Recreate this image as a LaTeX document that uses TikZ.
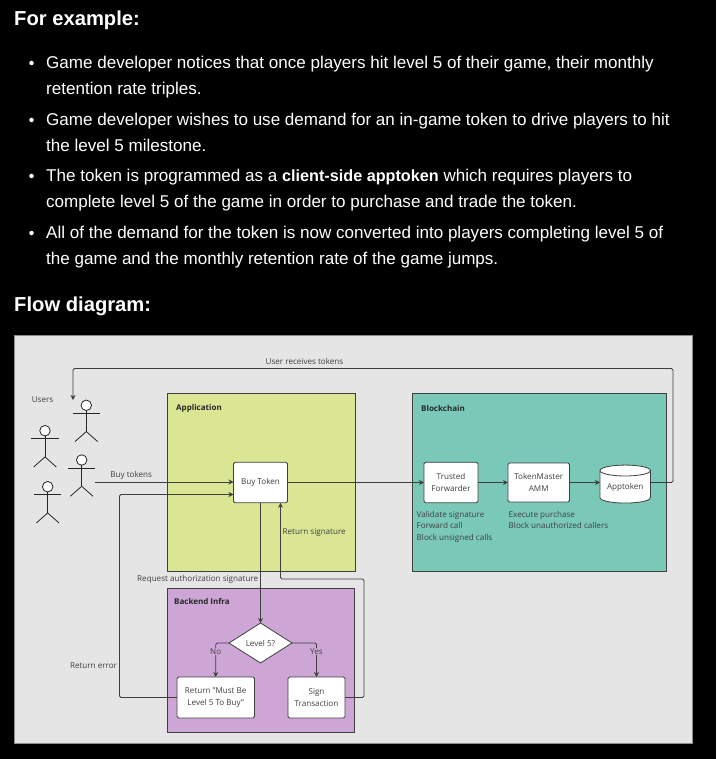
\documentclass[tikz,border=0pt]{standalone}
\usepackage{fontspec}
\setmainfont{Open Sans}
\newfontfamily\bodyfont{Liberation Sans}
\usetikzlibrary{shapes.geometric,arrows.meta,calc}
\definecolor{panel}{HTML}{E5E5E5}
\definecolor{appc}{HTML}{DAE694}
\definecolor{chainc}{HTML}{7AC8B8}
\definecolor{backc}{HTML}{CDA6D6}
\definecolor{ink}{HTML}{3F3F3F}
\tikzset{
  x=1pt,y=-1pt,
  zone/.style={draw=ink,line width=.8pt,anchor=north west,inner sep=0,outer sep=0},
  whitebox/.style={draw=ink,fill=white,line width=.8pt,rounded corners=1.5pt,inner sep=0,outer sep=0,align=center,font=\fontsize{8.1}{11.2}\selectfont,text=ink},
  conn/.style={draw=ink,line width=.8pt,rounded corners=1.5pt},
  arr/.style={conn,-{Stealth[length=5pt,width=5pt]}},
  lab/.style={font=\fontsize{8.1}{11.4}\selectfont,text=ink,inner sep=0,align=left},
  zonetitle/.style={font=\fontsize{8}{11}\selectfont\bfseries,text=black!85,inner sep=0,anchor=west},
  para/.style={font=\bodyfont\fontsize{17.05}{20}\selectfont,text=white,inner sep=0,anchor=base west},
  head/.style={font=\bodyfont\fontsize{20.2}{24}\selectfont\bfseries,text=white,inner sep=0,anchor=base west},
  dotb/.style={circle,fill=white,inner sep=0,minimum size=4.5pt},
  stick/.style={draw=black!85,line width=.8pt},
}
\newcommand{\stickman}[3]{%
  \node[circle,draw=black!85,fill=white,line width=.8pt,minimum size=10.5pt,inner sep=0,outer sep=0] (#1) at (#2,#3) {};
  \draw[stick] (#1.south) -- ++(0,21) coordinate (#1hip);
  \draw[stick] ($(#1.center)+(-13.7,8)$) -- ($(#1.center)+(13.7,8)$);
  \draw[stick] (#1hip) -- ++(-11.3,10);
  \draw[stick] (#1hip) -- ++(11.3,10);
}
\begin{document}
\begin{tikzpicture}
\useasboundingbox (0,0) rectangle (716,759);
\fill[black] (0,0) rectangle (716,759);

\node[head] (h1) at (14,25.5) {For example:};
\foreach \n/\yy in {a/62,b/119,c/175,d/232}{\node[dotb] (dot\n) at (31.5,\yy+1) {};}
\node[para] (l1) at (46,68.7) {Game developer notices that once players hit level 5 of their game, their monthly};
\node[para] (l2) at (46,94.7) {retention rate triples.};
\node[para] (l3) at (46,125.7) {Game developer wishes to use demand for an in-game token to drive players to hit};
\node[para] (l4) at (46,151.7) {the level 5 milestone.};
\node[para] (l5) at (46,181.7) {The token is programmed as a {\fontsize{16.2}{20}\selectfont\bfseries client-side apptoken} which requires players to};
\node[para] (l6) at (46,207.7) {complete level 5 of the game in order to purchase and trade the token.};
\node[para] (l7) at (46,238.7) {All of the demand for the token is now converted into players completing level 5 of};
\node[para] (l8) at (46,264.7) {the game and the monthly retention rate of the game jumps.};
\node[head] (h2) at (14,311) {Flow diagram:};

\node[anchor=north west,fill=panel,draw=black!45,line width=.5pt,inner sep=0,minimum width=678pt,minimum height=408.5pt] (bg) at (14,334.5) {};

\node[zone,fill=appc,minimum width=188pt,minimum height=178.5pt] (application) at (167,393) {};
\node[zone,fill=chainc,minimum width=254pt,minimum height=178.5pt] (blockchain) at (412,393) {};
\node[zone,fill=backc,minimum width=187.5pt,minimum height=144pt] (backend) at (167,588) {};
\node[zonetitle] (tapp) at (176,408) {Application};
\node[zonetitle] (tchain) at (421,408) {Blockchain};
\node[zonetitle] (tback) at (174,601) {Backend Infra};

\stickman{u1}{86.3}{405.3}
\stickman{u2}{45}{430.7}
\stickman{u3}{81.7}{460}
\stickman{u4}{47.7}{486.7}
\node[lab] (tusers) at (42.5,399.5) {Users};

\node[whitebox,minimum width=54pt,minimum height=40.5pt] (buy) at (260.5,482.5) {Buy Token};
\node[whitebox,minimum width=54pt,minimum height=40.5pt] (fwd) at (451,482.5) {Trusted\\Forwarder};
\node[whitebox,minimum width=61.5pt,minimum height=39pt] (tm) at (538.7,482.5) {TokenMaster\\AMM};
\node[cylinder,shape border rotate=90,aspect=.3,draw=ink,fill=white,line width=.8pt,inner sep=0,outer sep=0,minimum width=50.5pt,minimum height=38pt,font=\fontsize{8.1}{11.2}\selectfont,text=ink] (tokenapp) at (625.2,487) {Apptoken};
\node[diamond,draw=ink,fill=white,line width=.8pt,inner sep=0,outer sep=0,minimum width=63pt,minimum height=40pt,font=\fontsize{8.1}{11.2}\selectfont,text=ink] (level) at (260.5,643) {Level 5?};
\node[whitebox,minimum width=77.5pt,minimum height=41pt] (ret) at (215.7,697.5) {Return "Must Be\\Level 5 To Buy"};
\node[whitebox,minimum width=57pt,minimum height=41pt] (sign) at (316.5,697.5) {Sign\\Transaction};

\coordinate (buyfrom) at (95,482);
\coordinate (buyin) at (233.5,482);
\coordinate (errin) at (233.5,494.5);
\coordinate (sigin) at (280.5,502.8);
\coordinate (usersin) at (73,400);
\coordinate (appin) at (600,482.5);
\coordinate (appout) at (650.5,482.5);

\draw[arr] (buyfrom) -- (buyin);
\draw[arr] (ret.west) -| (119.5,494.5) -- (errin);
\draw[arr] (buy.south) -- (level.north);
\draw[arr] (sign.east) -- (364,697.5) -- (364,579) -- (280.5,579) -- (sigin);
\draw[arr] (buy.east) -- (fwd.west);
\draw[arr] (fwd.east) -- (tm.west);
\draw[arr] (tm.east) -- (appin);
\draw[arr] (appout) -- (673,482.5) -- (673,368.5) -- (73,368.5) -- (usersin);
\draw[arr] (level.west) -- (215.7,643) -- (ret.north);
\draw[arr] (level.east) -- (316.5,643) -- (sign.north);

\node[lab] (tbuy) at (131.2,475.5) {Buy tokens};
\node[lab] (trecv) at (304.5,361.5) {User receives tokens};
\node[lab] (tsig) at (314.2,532) {Return signature};
\node[lab] (treq) at (197.7,579.5) {Request authorization signature};
\node[lab] (terr) at (93.5,665.5) {Return error};
\node[lab,fill=backc,inner xsep=1pt,inner ysep=1pt] (tno) at (215.7,651.5) {No};
\node[lab,fill=backc,inner xsep=1pt,inner ysep=1pt] (tyes) at (316.5,651.5) {Yes};
\node[lab,anchor=north west] (tfwd) at (416.5,511) {Validate signature\\Forward call\\Block unsigned calls};
\node[lab,anchor=north west] (ttm) at (508.5,511) {Execute purchase\\Block unauthorized callers};
\end{tikzpicture}
\end{document}
